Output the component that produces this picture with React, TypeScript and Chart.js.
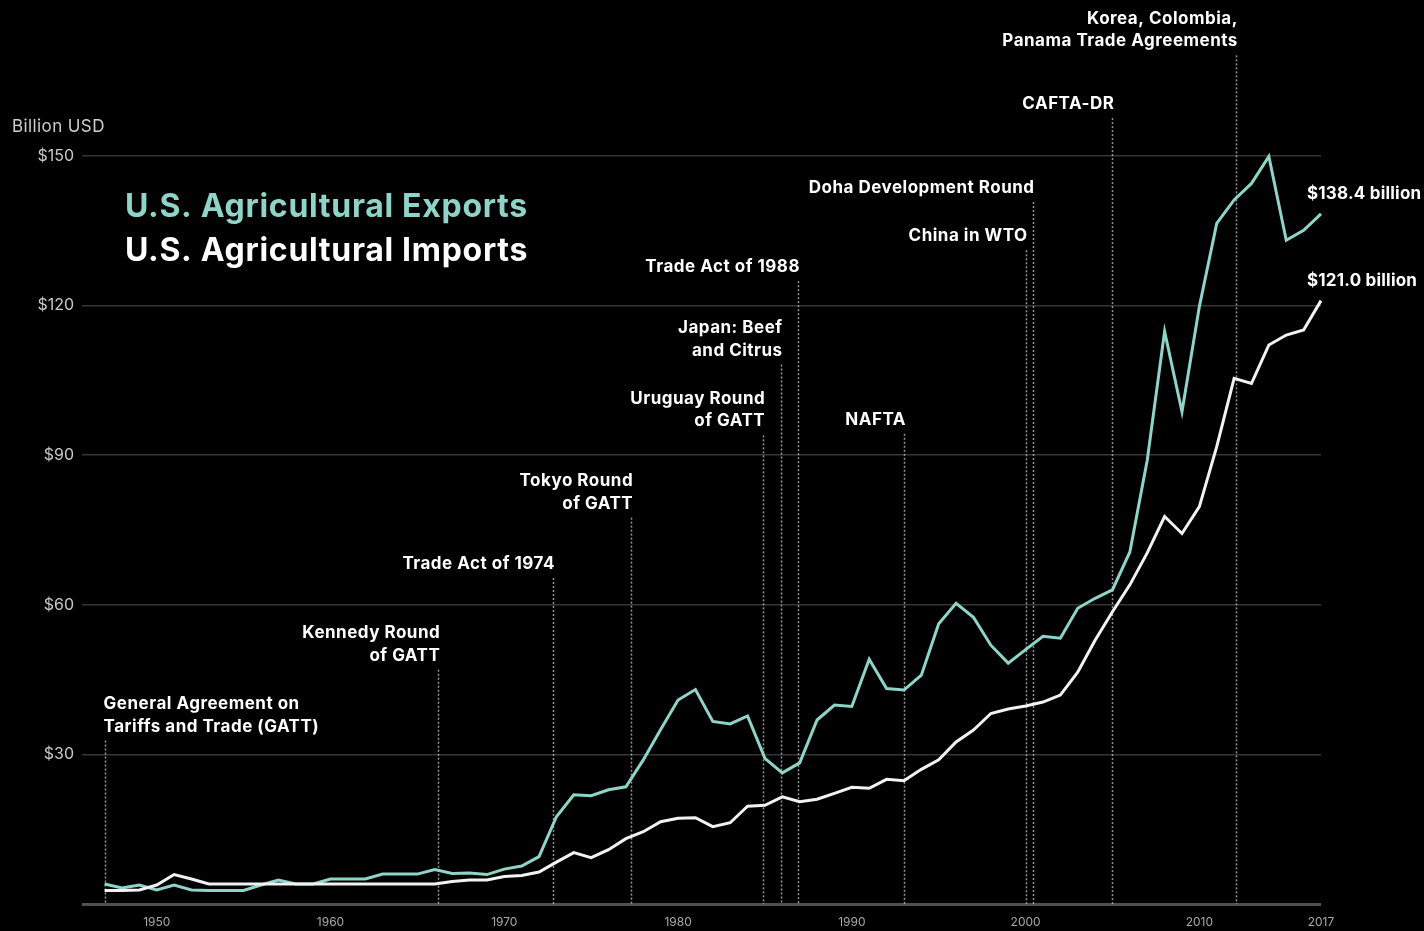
import React, { useEffect, useRef } from 'react';
import { Chart, registerables } from 'chart.js';

Chart.register(...registerables);

// U.S. agricultural trade, billion USD, 1947-2017
const firstYear = 1947;

const exportsValues = [
  4.0, 3.2, 3.8, 2.8, 3.8, 2.8, 2.7, 2.7, 2.7, 3.8,
  4.8, 4.0, 4.0, 5.0, 5.0, 5.0, 6.0, 6.0, 6.0, 6.9,
  6.1, 6.2, 5.9, 7.0, 7.6, 9.5, 17.5, 21.9, 21.7, 22.9,
  23.5, 28.9, 35.0, 40.9, 43.0, 36.6, 36.1, 37.7, 29.2, 26.3,
  28.3, 36.9, 39.9, 39.6, 49.1, 43.2, 42.9, 45.9, 56.2, 60.3,
  57.5, 51.9, 48.3, 51.0, 53.7, 53.3, 59.3, 61.3, 63.0, 70.6,
  89.0, 114.8, 98.7, 119.8, 136.5, 141.2, 144.5, 149.9, 133.1, 135.1,
  138.4
];

const importsValues = [
  2.7, 2.7, 2.8, 3.8, 5.9, 5.0, 4.0, 4.0, 4.0, 4.0,
  4.0, 4.0, 4.0, 4.0, 4.0, 4.0, 4.0, 4.0, 4.0, 4.0,
  4.5, 4.8, 4.8, 5.5, 5.7, 6.4, 8.4, 10.3, 9.3, 10.9,
  13.1, 14.5, 16.5, 17.2, 17.3, 15.5, 16.3, 19.6, 19.8, 21.5,
  20.5, 21.0, 22.2, 23.4, 23.2, 25.0, 24.7, 27.0, 28.9, 32.5,
  34.9, 38.2, 39.1, 39.7, 40.5, 41.9, 46.5, 52.9, 58.6, 64.0,
  70.4, 77.7, 74.3, 79.7, 91.7, 105.4, 104.4, 112.1, 114.1, 115.1,
  121.0
];

const years = exportsValues.map((_, i) => firstYear + i);

const xTickYears = [1950, 1960, 1970, 1980, 1990, 2000, 2010, 2017];
const yTickValues = [0, 30, 60, 90, 120, 150];

// trade agreements / events
const eventNames = [
  ['General Agreement on', 'Tariffs and Trade (GATT)'],
  ['Kennedy Round', 'of GATT'],
  ['Trade Act of 1974'],
  ['Tokyo Round', 'of GATT'],
  ['Uruguay Round', 'of GATT'],
  ['Japan: Beef', 'and Citrus'],
  ['Trade Act of 1988'],
  ['NAFTA'],
  ['China in WTO'],
  ['Doha Development Round'],
  ['CAFTA-DR'],
  ['Korea, Colombia,', 'Panama Trade Agreements']
];
const eventYears = [1947, 1966.2, 1972.8, 1977.3, 1984.9, 1985.9, 1986.9, 1993, 2000, 2000.4, 2005, 2012.1];

// label placement (y value of first text line), kept apart from the data
const eventLabelLevels = [40.1, 54.3, 68.2, 84.8, 101.3, 115.5, 127.7, 97.1, 133.9, 143.6, 160.4, 177.5];

const TEAL = '#8ed4c9';
const WHITE = '#f2f2f2';
const FONT = 'Inter, "Liberation Sans", Arial, sans-serif';

const annotationsPlugin = {
  id: 'tradeAnnotations',
  beforeDatasetsDraw(chart: any) {
    const { ctx, scales } = chart;
    const x = scales.x;
    const y = scales.y;
    ctx.save();
    ctx.strokeStyle = 'rgba(200,200,200,0.75)';
    ctx.lineWidth = 1.5;
    ctx.setLineDash([2, 2]);
    eventYears.forEach((yr, i) => {
      const px = Math.round(x.getPixelForValue(yr)) + 0.5;
      const lines = eventNames[i];
      const top = y.getPixelForValue(eventLabelLevels[i]) + (lines.length - 1) * 22.5 + 14;
      ctx.beginPath();
      ctx.moveTo(px, top);
      ctx.lineTo(px, y.getPixelForValue(0));
      ctx.stroke();
    });
    ctx.restore();
  },
  afterDraw(chart: any) {
    const { ctx, scales } = chart;
    const x = scales.x;
    const y = scales.y;
    ctx.save();
    ctx.textBaseline = 'middle';

    // event labels
    ctx.fillStyle = '#ffffff';
    ctx.font = `bold 17px ${FONT}`;
    ctx.letterSpacing = '0.5px';
    eventYears.forEach((yr, i) => {
      const px = x.getPixelForValue(yr);
      const lines = eventNames[i];
      const py = y.getPixelForValue(eventLabelLevels[i]);
      const leftAligned = i === 0;
      ctx.textAlign = leftAligned ? 'left' : 'right';
      lines.forEach((t, j) => {
        ctx.fillText(t, leftAligned ? px - 1 : px + 2, py + j * 22.5);
      });
    });

    // end-of-line values
    const last = years.length - 1;
    ctx.textAlign = 'left';
    ctx.letterSpacing = '0.2px';
    const lx = x.getPixelForValue(years[last]) - 14;
    ctx.fillText(`$${exportsValues[last].toFixed(1)} billion`, lx, y.getPixelForValue(exportsValues[last]) - 20);
    ctx.fillText(`$${importsValues[last].toFixed(1)} billion`, lx, y.getPixelForValue(importsValues[last]) - 20);

    // legend title
    ctx.font = `bold 32px ${FONT}`;
    ctx.letterSpacing = '0.7px';
    ctx.fillStyle = TEAL;
    ctx.fillText('U.S. Agricultural Exports', 125, 207);
    ctx.fillStyle = '#ffffff';
    ctx.fillText('U.S. Agricultural Imports', 125, 251);

    // unit label
    ctx.font = `17px ${FONT}`;
    ctx.letterSpacing = '0.4px';
    ctx.fillStyle = '#cfcfcf';
    ctx.fillText('Billion USD', 12, 127);
    ctx.restore();
  }
};

export default function App() {
  const canvasRef = useRef<HTMLCanvasElement>(null);

  useEffect(() => {
    if (!canvasRef.current) return;
    document.body.style.margin = '0';
    document.body.style.background = '#000';

    const chart = new Chart(canvasRef.current, {
      type: 'line',
      data: {
        datasets: [
          {
            label: 'U.S. Agricultural Imports',
            data: years.map((yr, i) => ({ x: yr, y: importsValues[i] })),
            borderColor: WHITE,
            borderWidth: 3,
            pointRadius: 0,
            tension: 0,
            clip: false as any
          },
          {
            label: 'U.S. Agricultural Exports',
            data: years.map((yr, i) => ({ x: yr, y: exportsValues[i] })),
            borderColor: TEAL,
            borderWidth: 3,
            pointRadius: 0,
            tension: 0,
            clip: false as any
          }
        ]
      },
      options: {
        animation: false,
        responsive: true,
        maintainAspectRatio: false,
        layout: { padding: { top: 156, right: 103, left: 0, bottom: 0 } },
        plugins: {
          legend: { display: false },
          tooltip: { enabled: false }
        },
        scales: {
          x: {
            type: 'linear',
            min: 1945.7,
            max: 2017,
            grid: { display: false, drawTicks: false },
            border: { display: false },
            afterBuildTicks: (scale: any) => {
              scale.ticks = xTickYears.map(v => ({ value: v }));
            },
            afterFit: (scale: any) => {
              scale.height = 27;
            },
            ticks: {
              color: '#a8a8a8',
              font: { family: FONT, size: 12 },
              padding: 11,
              maxRotation: 0,
              autoSkip: false,
              callback: (v: any) => String(v)
            }
          },
          y: {
            min: 0,
            max: 150,
            afterBuildTicks: (scale: any) => {
              scale.ticks = yTickValues.map(v => ({ value: v }));
            },
            afterFit: (scale: any) => {
              scale.width = 82;
            },
            border: { display: false },
            grid: {
              drawTicks: false,
              color: (c: any) => (c.tick && c.tick.value === 0 ? '#505050' : '#363636'),
              lineWidth: (c: any) => (c.tick && c.tick.value === 0 ? 3 : 1.5)
            },
            ticks: {
              color: '#c8c8c8',
              font: { family: FONT, size: 16 },
              padding: 8,
              callback: (v: any) => (v === 0 ? '' : `$${v}`)
            }
          }
        }
      },
      plugins: [annotationsPlugin]
    });

    return () => {
      chart.destroy();
    };
  }, []);

  return (
    <div style={{ position: 'fixed', left: 0, top: 0, width: 1424, height: 931, background: '#000' }}>
      <canvas ref={canvasRef} aria-label="U.S. agricultural exports and imports, 1947-2017" />
    </div>
  );
}
